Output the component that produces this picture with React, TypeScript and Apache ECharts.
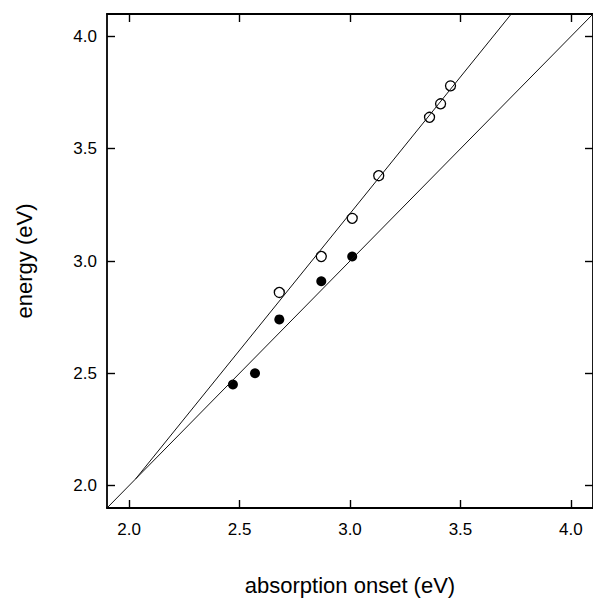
import React, { useEffect, useRef } from "react";
import * as echarts from "echarts";

const tickValues = [2.0, 2.5, 3.0, 3.5, 4.0];
const openPoints = [
  [2.68, 2.86],
  [2.87, 3.02],
  [3.01, 3.19],
  [3.13, 3.38],
  [3.36, 3.64],
  [3.41, 3.70],
  [3.455, 3.78],
];
const filledPoints = [
  [2.47, 2.45],
  [2.57, 2.50],
  [2.68, 2.74],
  [2.87, 2.91],
  [3.01, 3.02],
];
const openFitLine = [
  [2.03, 2.03],
  [3.73, 4.1],
];
const filledFitLine = [
  [1.9, 1.9],
  [4.1, 4.1],
];
const axisMin = 1.9;
const axisMax = 4.1;
const xName = "absorption onset (eV)";
const yName = "energy (eV)";

export default function App() {
  const ref = useRef<HTMLDivElement>(null);
  useEffect(() => {
    if (!ref.current) return;
    const chart = echarts.init(ref.current, null, { renderer: "svg" });
    const ink = "#000";
    const font = "'Liberation Sans', Arial, Helvetica, sans-serif";
    const baseAxis = (extra: any) => ({
      type: "value",
      min: axisMin,
      max: axisMax,
      splitLine: { show: false },
      axisLine: { show: true, onZero: false, lineStyle: { color: ink, width: 1.8 } },
      axisTick: {
        show: true,
        inside: true,
        length: 8,
        customValues: tickValues,
        lineStyle: { color: ink, width: 1.4 },
      },
      ...extra,
    });
    chart.setOption({
      animation: false,
      backgroundColor: "#fff",
      grid: {
        left: 107,
        top: 14,
        width: 486,
        height: 494,
        containLabel: false,
        outerBoundsMode: "none",
      },
      xAxis: [
        baseAxis({
          position: "bottom",
          name: xName,
          nameLocation: "middle",
          nameGap: 66,
          nameTextStyle: { fontSize: 22, color: ink, fontFamily: font },
          axisLabel: {
            customValues: tickValues,
            formatter: (v: number) => v.toFixed(1),
            fontSize: 17,
            color: ink,
            fontFamily: font,
            margin: 13,
          },
        }),
        baseAxis({ position: "top", axisLabel: { show: false } }),
      ],
      yAxis: [
        baseAxis({
          position: "left",
          name: yName,
          nameLocation: "middle",
          nameGap: 72,
          nameTextStyle: { fontSize: 22, color: ink, fontFamily: font },
          axisLabel: {
            customValues: tickValues,
            formatter: (v: number) => v.toFixed(1),
            fontSize: 17,
            color: ink,
            fontFamily: font,
            margin: 10,
          },
        }),
        baseAxis({ position: "right", axisLabel: { show: false } }),
      ],
      series: [
        {
          type: "line",
          data: filledFitLine,
          symbol: "none",
          lineStyle: { color: "#111", width: 1 },
          silent: true,
        },
        {
          type: "line",
          data: openFitLine,
          symbol: "none",
          lineStyle: { color: "#111", width: 1 },
          silent: true,
        },
        {
          type: "scatter",
          data: filledPoints,
          symbol: "circle",
          symbolSize: 10,
          itemStyle: { color: ink, opacity: 1 },
        },
        {
          type: "scatter",
          data: openPoints,
          symbol: "circle",
          symbolSize: 10,
          itemStyle: { color: "#fff", borderColor: ink, borderWidth: 1.3, opacity: 1 },
        },
      ],
    });
    return () => chart.dispose();
  }, []);
  return (
    <div
      ref={ref}
      style={{ position: "absolute", left: 0, top: 0, width: 593, height: 598 }}
    />
  );
}
